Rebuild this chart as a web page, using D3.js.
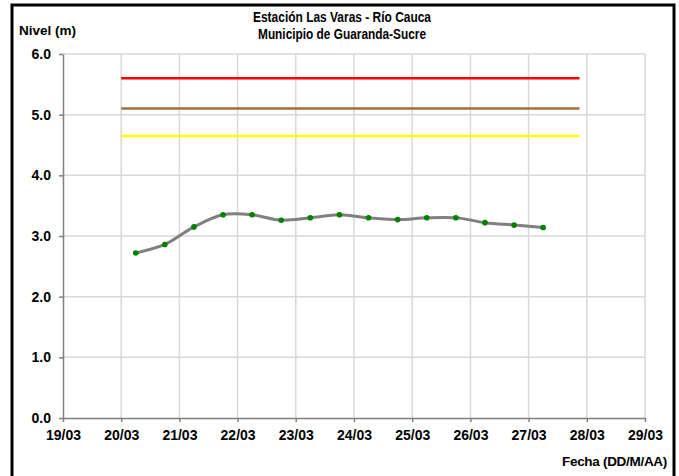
<!DOCTYPE html>
<html><head><meta charset="utf-8">
<script src="https://cdn.jsdelivr.net/npm/d3@7"></script>
<style>
body{margin:0;background:#fff;}
text{font-family:"Liberation Sans",Arial,sans-serif;font-weight:bold;fill:#000;}
</style></head><body>
<svg id="c" width="679" height="476"></svg>
<script>
const titleLines = ["Estación Las Varas - Río Cauca", "Municipio de Guaranda-Sucre"];
const yLabel = "Nivel (m)";
const xLabel = "Fecha (DD/M/AA)";
const times = ["20/03 06:00","20/03 18:00","21/03 06:00","21/03 18:00","22/03 06:00","22/03 18:00",
  "23/03 06:00","23/03 18:00","24/03 06:00","24/03 18:00","25/03 06:00","25/03 18:00",
  "26/03 06:00","26/03 18:00","27/03 06:00"];
const levels = [2.72,2.86,3.15,3.35,3.35,3.26,3.30,3.35,3.30,3.27,3.30,3.30,3.22,3.18,3.14];
const thresholdNames = ["Rojo","Naranja","Amarillo"];
const thresholdValues = [5.6,5.1,4.65];
const thresholdColors = ["#ff0000","#a0703c","#ffff00"];
const thresholdStart = "20/03 00:00";
const thresholdEnd = "27/03 21:00";
const xStart = "19/03 00:00", xEnd = "29/03 00:00";
const yTicks = [0,1,2,3,4,5,6];

const parse = d3.timeParse("%d/%m %H:%M");
const svg = d3.select("#c");
const m = {l:63, r:645, t:54, b:418};
const x = d3.scaleTime().domain([parse(xStart), parse(xEnd)]).range([m.l, m.r]);
const y = d3.scaleLinear().domain([0,6]).range([m.b, m.t]);

// frame
svg.append("rect").attr("x",12).attr("y",5).attr("width",662).attr("height",480)
  .attr("fill","none").attr("stroke","#000").attr("stroke-width",3);

// gridlines
const days = d3.timeDay.range(parse(xStart), d3.timeDay.offset(parse(xEnd),1));
svg.append("g").selectAll("line").data(days.slice(1)).join("line")
  .attr("x1",d=>x(d)).attr("x2",d=>x(d)).attr("y1",m.t).attr("y2",m.b)
  .attr("stroke","#d9d9d9").attr("stroke-width",1.5);
svg.append("g").selectAll("line").data(yTicks.slice(1)).join("line")
  .attr("x1",m.l).attr("x2",m.r).attr("y1",d=>y(d)).attr("y2",d=>y(d))
  .attr("stroke","#d9d9d9").attr("stroke-width",1.5);

// axes
const fmt = d3.timeFormat("%d/%m");
const xa = svg.append("g").attr("transform",`translate(0,${m.b})`)
  .call(d3.axisBottom(x).tickValues(days).tickFormat(fmt).tickSizeInner(4).tickSizeOuter(0).tickPadding(8));
const ya = svg.append("g").attr("transform",`translate(${m.l},0)`)
  .call(d3.axisLeft(y).tickValues(yTicks).tickFormat(d3.format(".1f")).tickSizeInner(4).tickSizeOuter(0).tickPadding(8));
[xa,ya].forEach(a=>{
  a.select(".domain").attr("stroke","#808080").attr("stroke-width",1.5);
  a.selectAll(".tick line").attr("stroke","#808080").attr("stroke-width",1.5);
  a.selectAll("text").style("font-size","14px").attr("fill","#000");
});

// thresholds
svg.append("g").selectAll("line").data(thresholdValues).join("line")
  .attr("x1",x(parse(thresholdStart))).attr("x2",x(parse(thresholdEnd)))
  .attr("y1",d=>y(d)).attr("y2",d=>y(d))
  .attr("stroke",(d,i)=>thresholdColors[i]).attr("stroke-width",2.5);

// series
const pts = times.map((t,i)=>({t:parse(t), v:levels[i]}));
svg.append("path").datum(pts)
  .attr("d", d3.line().x(d=>x(d.t)).y(d=>y(d.v)).curve(d3.curveCatmullRom.alpha(0.5)))
  .attr("fill","none").attr("stroke","#808080").attr("stroke-width",3);
svg.append("g").selectAll("circle").data(pts).join("circle")
  .attr("cx",d=>x(d.t)).attr("cy",d=>y(d.v)).attr("r",2.8).attr("fill","#008000");

// texts
svg.append("text").attr("x",342).attr("y",22).attr("text-anchor","middle")
  .attr("textLength",178).attr("lengthAdjust","spacingAndGlyphs")
  .style("font-size","14px").text(titleLines[0]);
svg.append("text").attr("x",342).attr("y",39).attr("text-anchor","middle")
  .attr("textLength",168).attr("lengthAdjust","spacingAndGlyphs")
  .style("font-size","14px").text(titleLines[1]);
svg.append("text").attr("x",19).attr("y",35).style("font-size","13.5px").text(yLabel);
svg.append("text").attr("x",667).attr("y",466).attr("text-anchor","end")
  .style("font-size","13.5px").style("letter-spacing","-0.3px").text(xLabel);
</script></body></html>
